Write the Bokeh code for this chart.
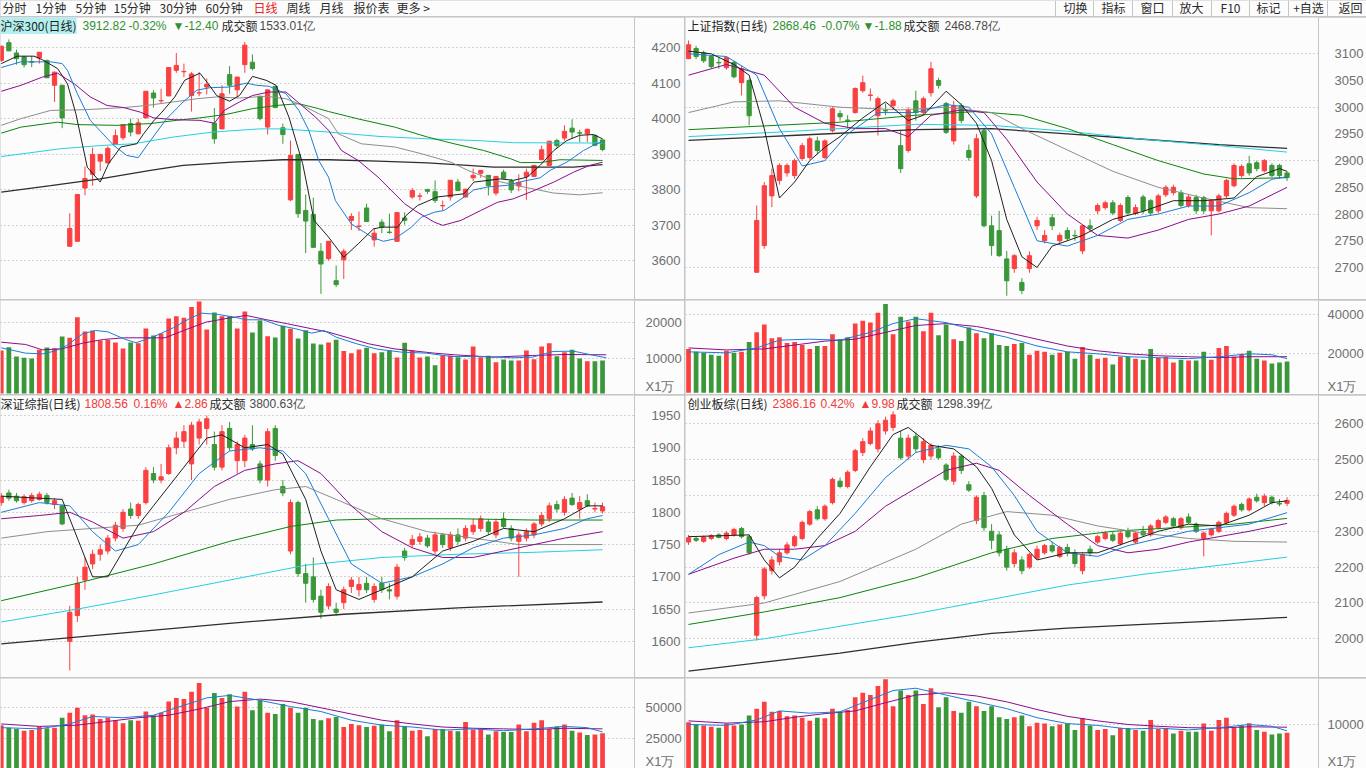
from bokeh.plotting import figure
from bokeh.layouts import column, row
from bokeh.models import (FixedTicker, Range1d, Label, Span, ColumnDataSource,
                          NumeralTickFormatter)
from bokeh.embed import file_html
from bokeh.resources import INLINE

# ----------------------------------------------------------------- data
# 沪深300 (daily)
HS300_O = [4164,4214,4185,4174,4160,4171,4164,4094,4094,3640,
           3654,3804,3843,3880,3875,3927,3946,3986,3957,4002,
           4072,4050,4064,4136,4132,4065,4072,4089,3987,3971,
           4124,4081,4152,4159,4063,3976,4091,3974,3771,3899,
           3741,3730,3626,3605,3543,3602,3713,3696,3748,3658,
           3708,3680,3654,3720,3779,3781,3800,3794,3754,3779,
           3821,3779,3833,3846,3840,3790,3849,3824,3810,3837,
           3837,3884,3868,3938,3945,3973,3960,3957,3953,3940]
HS300_H = [4206,4223,4194,4175,4176,4187,4166,4132,4095,3733,
           3787,3865,3918,3900,3922,3969,3984,4000,4000,4078,
           4080,4084,4145,4185,4155,4131,4131,4113,4030,4094,
           4148,4118,4216,4181,4064,4082,4092,3986,3938,3900,
           3786,3777,3649,3655,3586,3633,3733,3738,3760,3692,
           3716,3732,3736,3736,3804,3790,3802,3826,3769,3827,
           3830,3802,3859,3855,3841,3838,3856,3830,3843,3859,
           3869,3924,3938,3943,3981,3998,3969,3971,3954,3941]
HS300_L = [4160,4190,4152,4144,4145,4155,4115,4047,3973,3639,
           3653,3784,3811,3852,3874,3926,3940,3950,3956,4001,
           4031,4044,4063,4129,4117,4020,4063,4068,3929,3970,
           4070,4061,4129,4136,3995,3955,4030,3929,3767,3720,
           3621,3636,3506,3600,3525,3548,3686,3683,3709,3639,
           3677,3675,3653,3701,3774,3769,3788,3762,3741,3769,
           3796,3778,3824,3833,3783,3783,3831,3790,3795,3771,
           3836,3883,3867,3918,3938,3943,3934,3934,3922,3908]
HS300_C = [4204,4191,4169,4152,4159,4187,4115,4131,4002,3690,
           3786,3831,3899,3899,3916,3952,3983,3962,3988,4077,
           4058,4051,4144,4150,4133,4126,4073,4096,3943,4070,
           4094,4117,4207,4141,4000,4081,4031,3955,3896,3732,
           3711,3637,3590,3654,3532,3626,3724,3697,3710,3677,
           3694,3679,3735,3713,3797,3782,3795,3769,3755,3826,
           3797,3801,3840,3854,3811,3837,3832,3799,3820,3849,
           3868,3912,3936,3924,3964,3962,3959,3970,3925,3912.82]
HS300_VOL = [12150,13090,10460,10080,9890,12340,13000,12810,16110,15730,
             21570,17520,17800,14980,15170,14410,12720,14410,14220,18370,
             16390,16960,21200,21850,21380,24400,26000,18090,22890,21850,
             21850,18370,23170,17240,20630,16200,15830,19120,18280,15540,
             17900,14130,13850,14410,15170,12000,11400,12430,12910,11400,
             11680,12150,10170,14320,12150,10170,10460,8010,10740,10740,
             10270,9610,13280,10270,10640,8850,9610,9330,9330,12150,
             9700,13280,14220,10550,11680,12340,9890,9140,9140,9330]
HS300_MA = {
    "ma5": [(0,4155),(2.1,4176),(4.3,4176),(5.4,4166),(7.4,4141),(8.7,4098),(9.8,4014),
            (11.3,3863),(13.0,3821),(14.1,3873),(15.7,3920),(17.8,3929),(18.7,3957),
            (20,3993),(21.1,4018),(22.8,4061),(24.1,4108),(26.1,4128),(27.2,4098),
            (28.3,4065),(30,4049),(31.3,4065),(33,4119),(34.8,4108),(36.1,4094),
            (37.8,4004),(39.6,3873),(41.1,3713),(43,3666),(45,3609),(46.9,3647),
            (48.9,3689),(50,3694),(52.1,3694),(53.2,3727),(54.7,3755),(57.3,3779),
            (60.8,3788),(62.1,3821),(65.6,3830),(67.3,3826),(69.1,3835),(70.8,3868),
            (72.6,3910),(74.3,3938),(76,3953),(77.8,3955),(79,3943)],
    "ma10": [(0,4144),(2.6,4160),(6.5,4160),(8.0,4155),(8.7,4136),(10,4070),(11.7,3995),
             (14.8,3924),(16.5,3896),(18,3890),(19.6,3938),(21.7,3999),(23.9,4047),
             (25.7,4080),(27.4,4087),(30,4089),(32.2,4100),(33.5,4094),(35.2,4091),
             (37.4,4070),(39.1,4023),(40.4,3967),(41.7,3882),(43,3835),(43.9,3769),
             (46,3703),(48.7,3666),(50.2,3654),(51.7,3661),(53.9,3694),(55.2,3722),
             (56.9,3736),(58.2,3741),(59.5,3760),(61.3,3786),(62.1,3799),(63.9,3807),
             (66.5,3812),(68.7,3824),(70.8,3833),(72.1,3854),(74.3,3877),(76.5,3910),
             (78.2,3929),(79,3934)],
    "ma20": [(0,4077),(2.6,4094),(5.4,4117),(7.4,4128),(9.6,4098),(11.7,4061),(13.9,4037),
             (16.1,4031),(18.3,4018),(20,4002),(22.6,3997),(26.1,3995),(28,3987),
             (29.3,4023),(31.3,4047),(33,4065),(35.2,4075),(37.4,4075),(39.1,4044),
             (41.3,4004),(43,3967),(44.7,3910),(46.9,3882),(49.5,3835),(53,3760),
             (54.3,3741),(56.9,3708),(58,3699),(60.4,3713),(63,3741),(65.2,3764),
             (67.3,3774),(70,3797),(72.6,3821),(75.2,3849),(77.3,3868),(79,3877)],
    "ma30": [(0,3981),(2.6,4000),(6.5,4023),(10.9,4025),(16.1,4031),(19.1,4037),
             (22.6,4047),(25.7,4056),(28.3,4061),(31.3,4058),(34.8,4063),(37.4,4056),
             (39.6,4037),(41.7,4014),(43,4000),(44.3,3957),(47.3,3929),(51.7,3920),
             (55.2,3901),(59.1,3877),(61.3,3854),(64.7,3826),(68.7,3807),(72.6,3790),
             (76,3785),(79,3791)],
    "ma60": [(0,3959),(2.6,3976),(7.4,3990),(10,3983),(15.2,3981),(19.6,3986),(23,3995),
             (26.1,4002),(29.6,4012),(33,4028),(36.1,4037),(39.1,4042),(41.7,4028),
             (43,4020),(46.9,3999),(51.7,3976),(56,3948),(59.5,3929),(63.4,3910),
             (66.9,3887),(68.2,3876),(70.8,3876),(73.4,3884),(79,3882)],
    "ma120": [(0,3893),(7.8,3915),(13,3924),(17.4,3929),(22.6,3948),(27.8,3962),
              (33.9,3971),(37,3971),(43,3962),(49.5,3950),(56,3943),(62.6,3938),
              (67.3,3932),(79,3931)],
    "ma250": [(0,3793),(6.5,3811),(13,3830),(19.6,3854),(23.9,3868),(30.4,3877),
              (37,3884),(43,3884),(49.5,3880),(56,3875),(61.3,3868),(64.7,3863),
              (75.2,3863),(79,3870)],
}
HS300_VMA = {
    "v5": [(0,12900),(3.2,11400),(5.4,11200),(7,11960),(8.6,13560),(10.7,16860),
           (12.4,17800),(14,17430),(16.1,15450),(17.7,14320),(19.9,15920),(22.6,18560),
           (24.7,21100),(26.3,22700),(28.5,22330),(30.6,21570),(32.2,20820),(34.4,20820),
           (36.5,19220),(38.7,18280),(40.8,17050),(42.4,17800),(44,15920),(46.7,14040),
           (49.4,12530),(52.6,11680),(55.9,11400),(59.1,10460),(63.4,10460),(67.1,10080),
           (69.8,10270),(72.5,11870),(75.2,11960),(77.3,11020),(79.5,10080)],
    "v10": [(0,14500),(3.2,13850),(5.4,12340),(8,12620),(10.7,14220),(13.4,15260),
            (16.1,15730),(18.8,15730),(21.5,15730),(24.2,17990),(26.9,20160),(30.1,21380),
            (32.2,22040),(34.9,20820),(37.6,19690),(40.8,18280),(43,17330),(45.6,15730),
            (48.3,14040),(51.6,12620),(53.7,12150),(56.9,11400),(59.6,10930),(64.5,10270),
            (69.8,10740),(74.1,11020),(79.5,10930)],
}

# 上证指数 (daily): (open, high, low, close)
SH_OHLC = [
    (3091,3125,3090,3117),(3110,3115,3090,3095),(3102,3106,3083,3087),(3095,3097,3072,3076),
    (3084,3093,3072,3083),(3074,3095,3070,3093),(3084,3087,3054,3057),(3046,3078,3022,3072),
    (3050,3054,2966,2984),(2691,2816,2690,2788),(2741,2860,2735,2853),(2834,2885,2813,2872),
    (2863,2895,2855,2891),(2877,2895,2870,2891),(2872,2904,2866,2900),(2904,2933,2900,2928),
    (2906,2945,2902,2941),(2937,2945,2912,2919),(2906,2940,2903,2937),(2956,3000,2953,2997),
    (2988,2994,2975,2982),(2976,2985,2960,2975),(2990,3037,2988,3035),(3031,3059,3027,3046),
    (3022,3035,3012,3023),(2984,3020,2947,3016),(2994,3007,2985,2993),(3003,3016,2995,3012),
    (2928,2956,2877,2885),(2919,3000,2915,2994),(3012,3031,2975,2990),(2990,3020,2985,3016),
    (3027,3085,3020,3072),(3050,3055,3035,3041),(3007,3010,2950,2953),(2937,3012,2930,3003),
    (3003,3007,2970,2975),(2919,2930,2900,2906),(2834,2950,2830,2941),(2956,2960,2775,2778),
    (2778,2797,2722,2741),(2769,2806,2720,2722),(2716,2731,2647,2675),(2698,2725,2690,2722),
    (2672,2680,2650,2657),(2698,2730,2690,2722),(2778,2795,2770,2788),(2750,2770,2745,2760),
    (2793,2800,2770,2778),(2750,2765,2745,2760),(2769,2775,2750,2754),(2760,2770,2750,2759),
    (2731,2780,2725,2778),(2778,2790,2768,2773),(2806,2820,2800,2816),(2812,2825,2808,2821),
    (2821,2826,2798,2802),(2788,2820,2785,2816),(2831,2835,2798,2802),(2801,2818,2798,2812),
    (2832,2836,2800,2806),(2825,2828,2798,2802),(2806,2838,2802,2834),(2836,2854,2832,2850),
    (2840,2855,2835,2850),(2840,2845,2812,2816),(2816,2836,2812,2832),(2831,2836,2800,2806),
    (2831,2834,2800,2806),(2806,2828,2760,2825),(2806,2838,2803,2834),(2834,2866,2830,2863),
    (2853,2895,2850,2891),(2872,2893,2868,2889),(2894,2909,2872,2877),(2896,2900,2880,2885),
    (2881,2903,2878,2900),(2891,2895,2869,2872),(2891,2894,2866,2872),(2877,2880,2862,2868.46)]
SH_VOL = [22500,21000,20500,19500,19000,21500,20500,21000,26000,31000,
          35000,28000,28500,25500,26000,24500,22500,24000,24000,30000,
          27500,28500,35500,37000,36000,41000,45500,30000,39000,36500,
          39000,31500,41000,29500,35000,27500,26500,33500,30500,28000,
          30500,24500,24000,25000,25500,19500,21500,21000,19500,20500,
          21000,17500,23500,19500,17500,18000,14500,18500,18500,17500,
          17000,22500,18000,18500,15500,17000,16500,16500,21000,17000,
          23000,24000,18500,20000,21500,17500,16500,15000,15500,16000]
SH_MA = {
    "ma5": [(0,3105),(3,3100),(6,3080),(8,3060),(10,2960),(12,2830),(14,2860),(16,2900),
            (18,2925),(20,2945),(23,2980),(26,3010),(29,2975),(31,2985),(34,3030),(36,3005),
            (38,2970),(40,2900),(42,2790),(44,2720),(46,2700),(48,2740),(52,2760),(56,2790),
            (60,2805),(64,2825),(68,2825),(72,2830),(75,2870),(78,2885),(79,2880)],
    "ma10": [(0,3100),(5,3095),(9,3060),(12,2960),(15,2890),(18,2900),(21,2950),(25,2990),
             (30,2990),(34,3005),(37,3000),(40,2950),(43,2850),(46,2750),(50,2740),(54,2760),
             (58,2790),(62,2800),(66,2815),(70,2815),(74,2840),(77,2865),(79,2870)],
    "ma20": [(0,3060),(5,3080),(10,3060),(14,3000),(18,2970),(22,2960),(26,2960),(29,2945),
             (32,2985),(36,2995),(39,2990),(42,2940),(46,2860),(50,2800),(54,2760),(58,2755),
             (62,2770),(66,2790),(70,2800),(74,2815),(79,2850)],
    "ma30": [(0,2990),(6,3010),(12,3012),(20,3000),(28,2995),(34,3000),(40,2990),(44,2960),
             (50,2920),(56,2880),(62,2850),(68,2830),(74,2812),(79,2810)],
    "ma60": [(0,2958),(10,2965),(20,2972),(30,2985),(38,2992),(44,2985),(50,2960),(56,2930),
             (62,2900),(68,2875),(72,2866),(79,2868)],
    "ma120": [(0,2945),(10,2952),(20,2960),(30,2968),(40,2966),(50,2955),(60,2940),
              (70,2928),(79,2916)],
    "ma250": [(0,2938),(15,2948),(30,2958),(40,2960),(50,2950),(60,2940),(70,2930),
              (79,2923)],
}
SH_VMA = {
    "v5": [(0,21000),(5,20500),(9,23000),(12,27000),(16,27500),(20,27000),(24,31000),
           (27,35500),(30,38000),(34,36000),(38,32000),(42,28500),(46,24000),(50,21000),
           (54,20000),(58,18500),(62,18000),(66,17500),(70,18500),(74,20000),(77,19500),
           (79,17500)],
    "v10": [(0,23000),(5,22000),(10,22500),(14,24500),(18,26500),(22,27500),(26,31000),
            (30,34500),(34,35500),(38,34000),(42,31000),(46,27500),(50,24000),(54,21500),
            (58,20000),(62,19000),(66,18500),(70,18000),(74,18500),(79,18500)],
}

# 深证综指 (daily)
SZ_OHLC = [
    (1815,1830,1810,1825),(1830,1835,1818,1822),(1825,1830,1815,1818),(1815,1828,1812,1824),
    (1818,1830,1815,1826),(1820,1832,1818,1828),(1826,1830,1812,1815),(1812,1822,1805,1818),
    (1810,1812,1780,1782),(1600,1655,1555,1645),(1640,1700,1630,1690),(1695,1730,1680,1715),
    (1720,1742,1712,1735),(1735,1750,1725,1742),(1740,1765,1735,1760),(1760,1785,1755,1780),
    (1775,1805,1770,1800),(1805,1815,1790,1795),(1795,1815,1790,1812),(1815,1870,1812,1865),
    (1860,1870,1845,1850),(1850,1875,1845,1855),(1860,1905,1858,1900),(1900,1925,1890,1915),
    (1910,1935,1900,1925),(1875,1940,1850,1935),(1915,1945,1905,1940),(1930,1950,1905,1945),
    (1905,1925,1865,1870),(1870,1935,1865,1925),(1930,1940,1895,1900),(1880,1910,1860,1905),
    (1880,1920,1870,1915),(1905,1935,1895,1898),(1875,1880,1845,1850),(1850,1930,1840,1925),
    (1930,1935,1880,1888),(1840,1850,1825,1830),(1740,1820,1735,1815),(1815,1818,1700,1705),
    (1705,1720,1660,1690),(1700,1730,1660,1665),(1670,1680,1635,1645),(1655,1690,1650,1685),
    (1650,1660,1640,1645),(1660,1685,1650,1680),(1685,1700,1675,1695),(1680,1700,1670,1688),
    (1690,1700,1675,1680),(1665,1690,1660,1685),(1690,1700,1675,1680),(1680,1690,1665,1678),
    (1670,1720,1665,1715),(1740,1745,1725,1730),(1750,1765,1745,1758),(1755,1768,1750,1762),
    (1760,1765,1745,1748),(1740,1770,1735,1765),(1765,1768,1745,1750),(1745,1770,1740,1765),
    (1765,1775,1750,1755),(1760,1780,1755,1775),(1770,1790,1765,1780),(1775,1795,1770,1790),
    (1785,1790,1765,1770),(1765,1790,1760,1785),(1790,1800,1775,1778),(1775,1780,1755,1760),
    (1755,1770,1700,1765),(1760,1775,1755,1770),(1765,1785,1760,1782),(1782,1800,1778,1795),
    (1790,1815,1785,1810),(1812,1818,1800,1805),(1800,1825,1795,1820),(1822,1830,1810,1812),
    (1805,1825,1790,1815),(1818,1828,1808,1810),(1805,1815,1800,1806),(1802,1815,1798,1808.56)]
SZ_VOL = [36000,34000,33000,31500,32000,35000,33500,34000,42000,46000,
          50000,44000,44500,41000,42000,40000,37500,40000,39500,47000,
          44000,46000,55000,58000,57000,63000,70000,50000,62000,58000,
          61000,51000,63000,48000,56000,46000,45000,53000,50000,46000,
          50000,41000,40000,41500,42500,34500,37000,36000,34500,35500,
          36500,31000,40000,35000,31500,32000,27000,33000,33000,31500,
          31000,38500,32500,33000,28500,31000,30500,30500,36500,31000,
          38000,40000,33000,35000,36500,31500,30000,28000,28500,29500]
SZ_MA = {
    "ma5": [(0,1825),(8,1820),(10,1760),(12,1700),(14,1700),(16,1740),(18,1780),(20,1810),
            (24,1870),(27,1915),(29,1920),(32,1900),(35,1905),(37,1890),(40,1820),(42,1740),
            (44,1680),(47,1665),(50,1680),(54,1700),(58,1740),(62,1755),(66,1775),(70,1770),
            (74,1790),(77,1810),(79,1810)],
    "ma10": [(0,1800),(5,1815),(9,1810),(12,1770),(15,1740),(18,1750),(22,1800),(26,1860),
             (30,1895),(34,1900),(37,1895),(40,1860),(43,1790),(46,1720),(50,1690),(54,1700),
             (58,1720),(62,1745),(66,1760),(70,1765),(74,1775),(77,1790),(79,1795)],
    "ma20": [(0,1790),(5,1795),(9,1800),(12,1785),(16,1760),(20,1770),(24,1800),(28,1840),
             (32,1865),(36,1875),(39,1880),(42,1860),(46,1810),(50,1770),(54,1745),(58,1730),
             (62,1730),(66,1740),(70,1750),(74,1760),(79,1770)],
    "ma30": [(0,1760),(6,1770),(12,1775),(18,1780),(24,1800),(30,1820),(36,1835),(40,1840),
             (44,1820),(50,1790),(56,1770),(62,1760),(68,1750),(74,1750),(79,1750)],
    "ma60": [(0,1663),(10,1690),(20,1720),(30,1755),(38,1778),(44,1788),(50,1790),(60,1790),
             (70,1788),(79,1788)],
    "ma120": [(0,1630),(10,1650),(20,1672),(30,1695),(40,1718),(50,1730),(60,1735),
              (70,1738),(79,1742)],
    "ma250": [(0,1596),(15,1612),(30,1628),(45,1642),(60,1652),(79,1661)],
}
SZ_VMA = {
    "v5": [(0,34000),(5,33000),(9,37000),(12,43000),(16,42000),(20,44000),(24,52000),
           (27,58000),(30,60000),(34,56000),(38,51000),(42,47000),(46,40000),(50,36000),
           (54,34500),(58,32000),(62,33000),(66,31500),(70,33000),(74,35000),(77,34000),
           (79,30500)],
    "v10": [(0,37000),(5,35000),(10,36000),(14,39000),(18,42000),(22,44000),(26,49000),
            (30,55000),(34,57000),(38,55000),(42,50000),(46,45000),(50,40000),(54,37000),
            (58,34500),(62,33500),(66,33000),(70,32500),(74,33500),(79,33000)],
}

# 创业板综 (daily)
CY_OHLC = [
    (2270,2290,2262,2282),(2280,2285,2270,2275),(2272,2288,2268,2284),(2280,2292,2275,2288),
    (2290,2295,2280,2283),(2280,2300,2275,2295),(2290,2310,2285,2305),(2308,2312,2280,2285),
    (2285,2290,2235,2240),(2010,2120,1995,2115),(2120,2200,2110,2195),(2190,2230,2180,2220),
    (2215,2250,2205,2240),(2240,2270,2235,2262),(2260,2290,2255,2285),(2280,2330,2275,2325),
    (2320,2360,2315,2355),(2360,2370,2330,2335),(2335,2375,2330,2370),(2380,2450,2375,2445),
    (2440,2450,2420,2425),(2425,2470,2420,2465),(2470,2530,2465,2525),(2520,2560,2510,2550),
    (2545,2590,2540,2580),(2530,2610,2520,2600),(2580,2620,2570,2610),(2590,2635,2580,2625),
    (2560,2580,2500,2505),(2510,2570,2500,2560),(2565,2575,2520,2530),(2500,2560,2490,2550),
    (2510,2545,2500,2540),(2530,2540,2500,2505),(2485,2490,2440,2445),(2440,2520,2430,2510),
    (2510,2515,2460,2470),(2430,2440,2410,2415),(2330,2400,2320,2395),(2400,2410,2300,2310),
    (2300,2320,2250,2275),(2290,2300,2230,2240),(2250,2260,2190,2200),(2210,2250,2200,2240),
    (2220,2230,2180,2190),(2200,2240,2195,2235),(2225,2260,2220,2250),(2240,2265,2235,2260),
    (2260,2270,2240,2245),(2230,2260,2225,2255),(2255,2265,2230,2240),(2240,2250,2200,2210),
    (2190,2240,2180,2235),(2250,2260,2230,2240),(2270,2290,2265,2285),(2280,2300,2275,2295),
    (2290,2300,2270,2275),(2265,2300,2260,2295),(2300,2310,2280,2285),(2270,2300,2265,2295),
    (2300,2315,2285,2290),(2290,2320,2285,2315),(2310,2335,2305,2330),(2325,2345,2320,2340),
    (2335,2340,2310,2315),(2310,2340,2305,2335),(2340,2350,2320,2325),(2320,2325,2295,2300),
    (2280,2300,2230,2295),(2290,2310,2285,2305),(2300,2330,2295,2325),(2325,2355,2320,2350),
    (2345,2375,2340,2370),(2375,2380,2355,2360),(2360,2395,2355,2390),(2395,2405,2380,2385),
    (2380,2405,2370,2398),(2395,2400,2375,2380),(2378,2390,2370,2376),(2378,2395,2370,2386.16)]
CY_VOL = [10500,10000,9800,9500,9300,10200,9800,10000,12000,13500,
          15000,12800,13000,11800,12000,11500,10800,11500,11400,13500,
          12800,13200,16000,17000,16500,18500,20000,14000,17500,16500,
          17500,14500,18000,13800,16000,13000,12600,15000,14000,13000,
          14000,11600,11200,11600,12000,9600,10400,10200,9600,10000,
          10200,8800,11400,9800,8800,9000,7600,9200,9200,8800,
          8600,11000,9000,9200,8000,8600,8400,8400,10200,8600,
          11000,11500,9200,9800,10300,8800,8400,7800,8000,8200]
CY_MA = {
    "ma5": [(0,2285),(8,2290),(10,2220),(12,2170),(14,2200),(17,2280),(20,2350),(24,2480),
            (27,2570),(29,2590),(32,2540),(35,2530),(38,2480),(40,2420),(43,2290),(46,2220),
            (50,2240),(54,2240),(58,2270),(62,2300),(66,2320),(70,2315),(74,2345),(77,2380),
            (79,2385)],
    "ma10": [(0,2180),(4,2235),(8,2270),(10,2260),(12,2230),(15,2220),(18,2260),(22,2350),
             (26,2450),(30,2520),(34,2540),(37,2530),(40,2480),(43,2400),(46,2300),(50,2240),
             (54,2230),(58,2260),(62,2280),(66,2300),(70,2310),(74,2320),(79,2352)],
    "ma20": [(0,2180),(6,2225),(10,2250),(14,2250),(18,2260),(22,2300),(26,2370),(30,2420),
             (34,2470),(38,2490),(41,2470),(45,2400),(50,2320),(54,2260),(58,2240),(62,2250),
             (66,2270),(70,2285),(74,2300),(79,2322)],
    "ma30": [(0,2072),(10,2100),(20,2160),(30,2250),(36,2320),(42,2355),(48,2345),(54,2315),
             (60,2295),(66,2280),(72,2272),(79,2270)],
    "ma60": [(0,2040),(10,2075),(20,2115),(30,2170),(40,2240),(48,2280),(56,2300),(64,2310),
             (72,2320),(79,2336)],
    "ma120": [(0,1975),(10,2000),(20,2035),(30,2070),(40,2110),(50,2150),(60,2180),
              (70,2205),(79,2228)],
    "ma250": [(0,1910),(10,1935),(20,1960),(30,1990),(40,2015),(50,2030),(60,2040),
              (70,2050),(79,2060)],
}
CY_VMA = {
    "v5": [(0,10000),(5,9800),(9,11000),(12,13000),(16,12500),(20,12800),(24,15500),
           (27,17500),(30,18000),(34,16500),(38,15000),(42,13500),(46,11500),(50,10200),
           (54,9800),(58,9000),(62,9200),(66,8800),(70,9300),(74,10000),(77,9600),(79,8600)],
    "v10": [(0,10800),(5,10300),(10,10600),(14,11600),(18,12400),(22,13000),(26,14800),
            (30,16500),(34,17000),(38,16300),(42,15000),(46,13300),(50,11800),(54,10800),
            (58,10000),(62,9600),(66,9300),(70,9200),(74,9500),(79,9400)],
}

# header texts: (text, colour key)
HEADERS = {
    "tl": [("沪深300(日线)", "name"), ("3912.82", "dn"), ("-0.32%", "dn"), ("▼-12.40", "dn"),
           ("成交额", "lab"), ("1533.01亿", "amt")],
    "tr": [("上证指数(日线)", "name"), ("2868.46", "dn"), ("-0.07%", "dn"), ("▼-1.88", "dn"),
           ("成交额", "lab"), ("2468.78亿", "amt")],
    "bl": [("深证综指(日线)", "name"), ("1808.56", "up"), ("0.16%", "up"), ("▲2.86", "up"),
           ("成交额", "lab"), ("3800.63亿", "amt")],
    "br": [("创业板综(日线)", "name"), ("2386.16", "up"), ("0.42%", "up"), ("▲9.98", "up"),
           ("成交额", "lab"), ("1298.39亿", "amt")],
}
TOOLBAR_LEFT = ["分时", "1分钟", "5分钟", "15分钟", "30分钟", "60分钟", "日线", "周线",
                "月线", "报价表", "更多 >"]
TOOLBAR_RIGHT = ["切换", "指标", "窗口", "放大", "F10", "标记", "+自选", "返回"]
VOL_UNIT = "X1万"

# ----------------------------------------------------------------- style
RED = "#fa4040"
GREEN = "#3a973a"
BG = "#fcfcfc"
LINE = "#c6c6c6"
GRID = "#a9a9a9"
TICK_TXT = "#6f6f6f"
CJK = "Noto Sans CJK SC"
NUM = "Liberation Sans"
MA_COLORS = {"ma250": "#2e2e2e", "ma120": "#25d0e0", "ma60": "#0b850b", "ma30": "#8d8d8d",
             "ma20": "#8b0d8b", "ma10": "#1a7dd6", "ma5": "#1f1f1f"}
VMA_COLORS = {"v10": "#8b0d8b", "v5": "#1a7dd6"}
HEAD_COLORS = {"name": "#1c1c1c", "dn": "#2f912f", "up": "#f03b3b", "lab": "#2a2a2a",
               "amt": "#4a4a4a"}

W_L, AX_L = 684, 50
W_R, AX_R = 681, 46
H_TB, H_TP, H_TV, H_BP, H_BV = 16, 282, 94, 282, 90


def base_fig(width, height, axis_w, xr, yr, ticks, gticks, standoff, overrides=None):
    p = figure(width=width, height=height, x_range=Range1d(*xr), y_range=Range1d(*yr),
               x_axis_location=None, y_axis_location="right", toolbar_location=None,
               output_backend="svg", min_border_left=0, min_border_top=0,
               min_border_bottom=0, min_border_right=axis_w)
    p.background_fill_color = BG
    p.border_fill_color = BG
    p.outline_line_color = None
    p.xgrid.visible = False
    ax = p.yaxis[0]
    ax.ticker = FixedTicker(ticks=ticks)
    ax.formatter = NumeralTickFormatter(format="0")
    if overrides:
        ax.major_label_overrides = overrides
    ax.major_tick_out = 0
    ax.major_tick_in = 0
    ax.minor_tick_out = 0
    ax.minor_tick_in = 0
    ax.major_tick_line_color = None
    ax.minor_tick_line_color = None
    ax.axis_line_color = LINE
    ax.major_label_text_color = TICK_TXT
    ax.major_label_text_font = NUM
    ax.major_label_text_font_size = "13px"
    ax.major_label_standoff = standoff
    g = p.ygrid[0]
    g.ticker = FixedTicker(ticks=gticks)
    g.grid_line_color = GRID
    g.grid_line_dash = "1 3"
    return p


def candle_colors(O, C):
    return [RED if c >= o else GREEN for o, c in zip(O, C)]


def price_fig(width, height, axis_w, xr, yr, ticks, gticks, standoff, O, H, L, C, mas,
              header, offsets, highlight=False):
    p = base_fig(width, height, axis_w, xr, yr, ticks, gticks, standoff)
    src = ColumnDataSource(dict(
        x=list(range(len(C))), h=H, l=L,
        top=[max(o, c) for o, c in zip(O, C)], bot=[min(o, c) for o, c in zip(O, C)],
        color=candle_colors(O, C)))
    p.segment(x0="x", y0="l", x1="x", y1="h", line_color="color", line_width=1, source=src)
    p.vbar(x="x", top="top", bottom="bot", width=0.56, fill_color="color",
           line_color="color", line_width=1, source=src)
    for key in ["ma250", "ma120", "ma60", "ma30", "ma20", "ma10", "ma5"]:
        pts = mas[key]
        p.line([a for a, b in pts], [b for a, b in pts], line_color=MA_COLORS[key],
               line_width=1.3 if key == "ma250" else 1)
    for (text, ck), xoff in zip(header, offsets):
        is_cjk = ck in ("name", "lab")
        lab = Label(x=xoff, y=height - 8, x_units="screen", y_units="screen", text=text,
                    text_font=CJK if is_cjk else NUM, text_font_size="12px",
                    text_color=HEAD_COLORS[ck], text_baseline="middle")
        if ck == "name" and highlight:
            lab.background_fill_color = "#b3eff0"
        p.add_layout(lab)
    return p


def volume_fig(width, height, axis_w, xr, yr, ticks, unit_tick, standoff, O, C, V, vmas):
    p = base_fig(width, height, axis_w, xr, yr, [unit_tick] + ticks, ticks, standoff,
                 overrides={unit_tick: VOL_UNIT})
    src = ColumnDataSource(dict(x=list(range(len(V))), v=V, color=candle_colors(O, C)))
    p.vbar(x="x", top="v", bottom=0, width=0.62, fill_color="color", line_color=None,
           source=src)
    for key in ["v10", "v5"]:
        pts = vmas[key]
        p.line([a for a, b in pts], [b for a, b in pts], line_color=VMA_COLORS[key],
               line_width=1)
    return p


def split(ohlc):
    return ([r[0] for r in ohlc], [r[1] for r in ohlc], [r[2] for r in ohlc],
            [r[3] for r in ohlc])


XR_L = (-0.1, 83.2)
XR_R = (-0.4, 83.15)

SH_O, SH_H, SH_L, SH_C = split(SH_OHLC)
SZ_O, SZ_H, SZ_L, SZ_C = split(SZ_OHLC)
CY_O, CY_H, CY_L, CY_C = split(CY_OHLC)

OFF_TL = [0, 82, 128, 172, 221, 259]
OFF_TR = [2, 87, 136, 177, 218, 259]
OFF_BL = [0, 84, 133, 172, 209, 249]
OFF_BR = [2, 87, 135, 174, 211, 251]

tl = price_fig(W_L, H_TP, AX_L, XR_L, (3490, 4285), list(range(3600, 4201, 100)),
               list(range(3600, 4201, 100)), 17, HS300_O, HS300_H, HS300_L, HS300_C,
               HS300_MA, HEADERS["tl"], OFF_TL, highlight=True)
tr = price_fig(W_R, H_TP, AX_R, XR_R, (2640, 3168), list(range(2700, 3101, 50)),
               list(range(2700, 3101, 100)), 16, SH_O, SH_H, SH_L, SH_C, SH_MA,
               HEADERS["tr"], OFF_TR)
bl = price_fig(W_L, H_BP, AX_L, XR_L, (1544, 1981), list(range(1600, 1951, 50)),
               list(range(1600, 1951, 50)), 17, SZ_O, SZ_H, SZ_L, SZ_C, SZ_MA,
               HEADERS["bl"], OFF_BL)
br = price_fig(W_R, H_BP, AX_R, XR_R, (1892, 2679), list(range(2000, 2601, 100)),
               list(range(2000, 2601, 100)), 16, CY_O, CY_H, CY_L, CY_C, CY_MA,
               HEADERS["br"], OFF_BR)

tlv = volume_fig(W_L, H_TV, AX_L, XR_L, (-280, 26270), [10000, 20000], 1840, 11,
                 HS300_O, HS300_C, HS300_VOL, HS300_VMA)
trv = volume_fig(W_R, H_TV, AX_R, XR_R, (-870, 47330), [20000, 40000], 2980, 9,
                 SH_O, SH_C, SH_VOL, SH_VMA)
blv = volume_fig(W_L, H_BV, AX_L, XR_L, (1050, 73630), [25000, 50000], 5900, 11,
                 SZ_O, SZ_C, SZ_VOL, SZ_VMA)
brv = volume_fig(W_R, H_BV, AX_R, XR_R, (290, 20150), [10000], 1620, 9,
                 CY_O, CY_C, CY_VOL, CY_VMA)

# toolbar strip
TOTAL_W = W_L + 1 + W_R
tb = figure(width=TOTAL_W, height=H_TB, x_range=Range1d(0, TOTAL_W),
            y_range=Range1d(0, H_TB), x_axis_location=None, y_axis_location=None,
            toolbar_location=None, output_backend="svg", min_border=0)
tb.grid.visible = False
tb.outline_line_color = None
tb.background_fill_color = BG
tb.border_fill_color = BG
LEFT_X = [2, 35, 75, 113, 159, 205, 253, 286, 319, 353, 396]
for text, x in zip(TOOLBAR_LEFT, LEFT_X):
    tb.add_layout(Label(x=x, y=9, text=text, text_font=CJK, text_font_size="12px",
                        text_color="#e8201e" if text == "日线" else "#2b2b2b",
                        text_baseline="middle"))
RIGHT_CX = [1075, 1113, 1152, 1191, 1230, 1268, 1308, 1350]
for text, cx in zip(TOOLBAR_RIGHT, RIGHT_CX):
    tb.add_layout(Label(x=cx, y=9, text=text, text_font=CJK, text_font_size="12px",
                        text_color="#2b2b2b", text_baseline="middle", text_align="center"))
for sx in [1055, 1093, 1132, 1172, 1211, 1249, 1288, 1327]:
    tb.add_layout(Span(location=sx, dimension="height", line_color=LINE, line_width=1))

layout = column(
    tb,
    row(tl, tr, spacing=1),
    row(tlv, trv, spacing=1),
    row(bl, br, spacing=1),
    row(blv, brv, spacing=1),
    spacing=1,
    styles={"background-color": LINE},
)

open("out.html", "w").write(file_html(layout, INLINE))
